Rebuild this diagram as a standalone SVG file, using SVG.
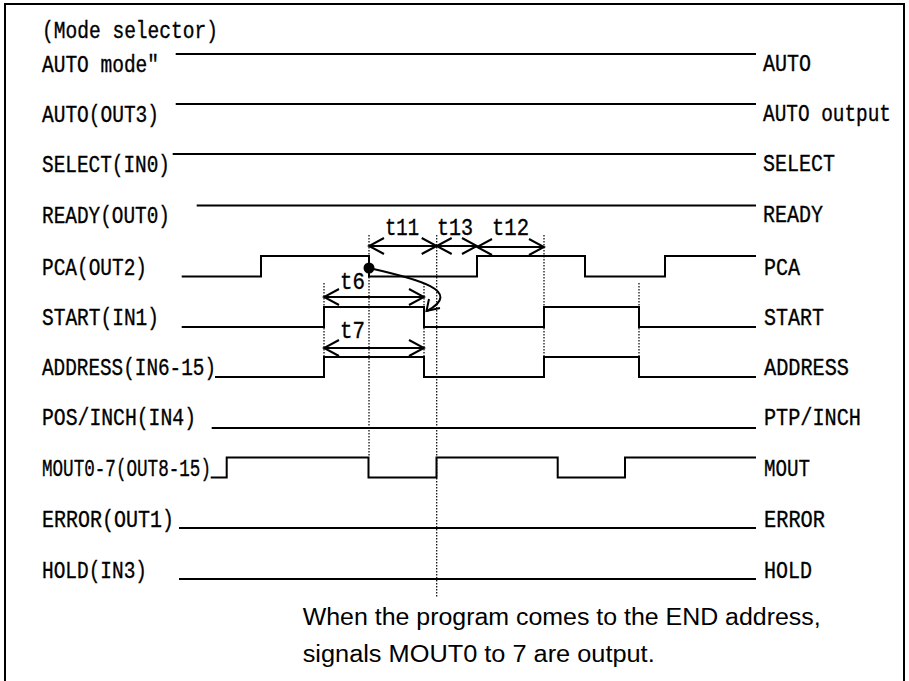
<svg xmlns="http://www.w3.org/2000/svg" width="909" height="681" viewBox="0 0 909 681">
<style>
  .bg { fill: #ffffff; }
  .frame { fill: none; stroke: #000; stroke-width: 2; }
  .sig { fill: none; stroke: #000; stroke-width: 2; stroke-linejoin: miter; }
  .lbl { font-family: "Liberation Mono", "DejaVu Sans Mono", monospace; font-size: 23.5px; fill: #000; stroke: #000; stroke-width: 0.35; }
  .note { font-family: "Liberation Sans", "Noto Sans", sans-serif; font-size: 23.5px; fill: #000; }
  .dot { fill: none; stroke: #000; stroke-width: 1.2; stroke-dasharray: 1.5 1.5; }
  .dim { fill: none; stroke: #000; stroke-width: 2; marker-start: url(#vh); marker-end: url(#vh); }
  .curve { fill: none; stroke: #000; stroke-width: 2; }
</style>
<defs>
  <marker id="vh" markerUnits="userSpaceOnUse" viewBox="-17 -10 19 20" refX="0" refY="0" markerWidth="19" markerHeight="20" orient="auto-start-reverse">
    <path d="M-15,-8 L0,0 L-15,8" fill="none" stroke="#000" stroke-width="2"/>
  </marker>
</defs>
<rect class="bg" x="0" y="0" width="909" height="681"/>
<rect class="frame" x="5" y="4" width="899" height="690"/>

<text class="lbl" x="42" y="38" textLength="176" lengthAdjust="spacingAndGlyphs">(Mode selector)</text>

<g id="row-auto-mode">
  <text class="lbl" x="42" y="72" textLength="117" lengthAdjust="spacingAndGlyphs">AUTO mode"</text>
  <path class="sig" d="M175.7,54 H756"/>
  <text class="lbl" x="763" y="71" textLength="48" lengthAdjust="spacingAndGlyphs">AUTO</text>
</g>
<g id="row-auto">
  <text class="lbl" x="42" y="122" textLength="117" lengthAdjust="spacingAndGlyphs">AUTO(OUT3)</text>
  <path class="sig" d="M175.7,104 H756"/>
  <text class="lbl" x="763" y="121" textLength="128" lengthAdjust="spacingAndGlyphs">AUTO output</text>
</g>
<g id="row-select">
  <text class="lbl" x="42" y="172" textLength="128" lengthAdjust="spacingAndGlyphs">SELECT(IN0)</text>
  <path class="sig" d="M172.7,154 H756"/>
  <text class="lbl" x="763" y="171" textLength="72" lengthAdjust="spacingAndGlyphs">SELECT</text>
</g>
<g id="row-ready">
  <text class="lbl" x="42" y="223" textLength="128" lengthAdjust="spacingAndGlyphs">READY(OUT0)</text>
  <path class="sig" d="M196.7,205.5 H756"/>
  <text class="lbl" x="763" y="222" textLength="60" lengthAdjust="spacingAndGlyphs">READY</text>
</g>
<g id="row-pca">
  <text class="lbl" x="42" y="275" textLength="105" lengthAdjust="spacingAndGlyphs">PCA(OUT2)</text>
  <path class="sig" d="M181.7,276.5 H261 V256 H369 V276.5 H477 V256 H585 V276.5 H665 V256 H756"/>
  <text class="lbl" x="764" y="275" textLength="36" lengthAdjust="spacingAndGlyphs">PCA</text>
</g>
<g id="row-start">
  <text class="lbl" x="42" y="325" textLength="117" lengthAdjust="spacingAndGlyphs">START(IN1)</text>
  <path class="sig" d="M181.7,327 H324 V307 H424 V327 H544 V307 H639 V327 H756"/>
  <text class="lbl" x="764" y="325" textLength="60" lengthAdjust="spacingAndGlyphs">START</text>
</g>
<g id="row-address">
  <text class="lbl" x="42" y="375" textLength="174" lengthAdjust="spacingAndGlyphs">ADDRESS(IN6-15)</text>
  <path class="sig" d="M215,377 H324 V357 H424 V377 H544 V357 H639 V377 H756"/>
  <text class="lbl" x="764" y="375" textLength="85" lengthAdjust="spacingAndGlyphs">ADDRESS</text>
</g>
<g id="row-pos">
  <text class="lbl" x="42" y="425" textLength="154" lengthAdjust="spacingAndGlyphs">POS/INCH(IN4)</text>
  <path class="sig" d="M211.7,428 H756"/>
  <text class="lbl" x="764" y="425" textLength="97" lengthAdjust="spacingAndGlyphs">PTP/INCH</text>
</g>
<g id="row-mout">
  <text class="lbl" x="42" y="476" textLength="169" lengthAdjust="spacingAndGlyphs">MOUT0-7(OUT8-15)</text>
  <path class="sig" d="M210.7,477.5 H226.7 V457.5 H368.5 V477.5 H436.5 V457.5 H557.7 V477.5 H625 V457.5 H756"/>
  <text class="lbl" x="764" y="476" textLength="46" lengthAdjust="spacingAndGlyphs">MOUT</text>
</g>
<g id="row-error">
  <text class="lbl" x="42" y="527" textLength="132" lengthAdjust="spacingAndGlyphs">ERROR(OUT1)</text>
  <path class="sig" d="M179,528 H756"/>
  <text class="lbl" x="764" y="527" textLength="61" lengthAdjust="spacingAndGlyphs">ERROR</text>
</g>
<g id="row-hold">
  <text class="lbl" x="42" y="578" textLength="105" lengthAdjust="spacingAndGlyphs">HOLD(IN3)</text>
  <path class="sig" d="M179,579 H756"/>
  <text class="lbl" x="764" y="578" textLength="48" lengthAdjust="spacingAndGlyphs">HOLD</text>
</g>

<g id="connectors">
  <path class="dot" d="M324,283 V357"/>
  <path class="dot" d="M424,283 V357"/>
  <path class="dot" d="M369,235 V457"/>
  <path class="dot" d="M436.7,235 V598"/>
  <path class="dot" d="M544,235 V357"/>
  <path class="dot" d="M639,283 V357"/>
  <path class="dim" d="M369,246 H436.7"/>
  <path class="dim" d="M436.7,246 H477"/>
  <path class="dim" d="M477,247 H544"/>
  <path class="dim" d="M324,297 H424"/>
  <path class="dim" d="M324,348 H424"/>
  <circle cx="369" cy="268" r="5.5" fill="#000"/>
  <path class="curve" d="M369,268 C418,279 464,291 427,311"/>
  <path class="curve" d="M429,299 L426.5,311 L440,308"/>
</g>

<g id="timing-labels">
  <text class="lbl" x="385" y="235" textLength="34" lengthAdjust="spacingAndGlyphs">t11</text>
  <text class="lbl" x="437" y="235" textLength="36" lengthAdjust="spacingAndGlyphs">t13</text>
  <text class="lbl" x="492" y="235" textLength="37" lengthAdjust="spacingAndGlyphs">t12</text>
  <text class="lbl" x="340" y="289" textLength="25" lengthAdjust="spacingAndGlyphs">t6</text>
  <text class="lbl" x="340" y="338" textLength="25" lengthAdjust="spacingAndGlyphs">t7</text>
</g>

<g id="note">
  <text class="note" x="302.7" y="625" textLength="518" lengthAdjust="spacingAndGlyphs">When the program comes to the END address,</text>
  <text class="note" x="302.7" y="662" textLength="352" lengthAdjust="spacingAndGlyphs">signals MOUT0 to 7 are output.</text>
</g>
</svg>
